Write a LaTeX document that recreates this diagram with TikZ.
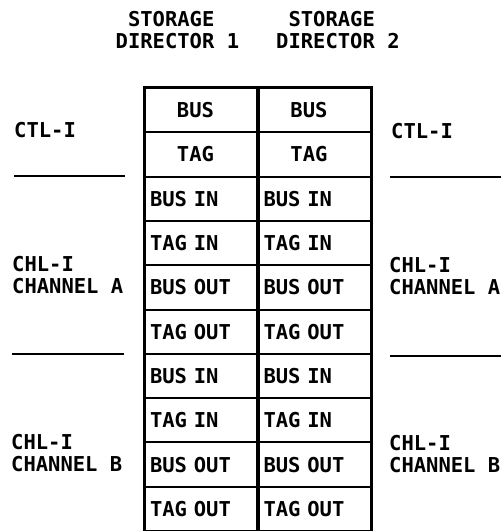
\documentclass[tikz,border=0pt]{standalone}
\usepackage{fontspec}
\newfontfamily\lblfont{DejaVu Sans Mono}
\begin{document}
\begin{tikzpicture}[x=1pt,y=-1pt,
  lbl/.style={font=\lblfont\bfseries\fontsize{20.5}{21.5}\selectfont, inner sep=0pt},
  cellc/.style={lbl, draw, line width=2pt, minimum width=112pt, minimum height=44.3pt, align=center},
  celll/.style={cellc, text width=102pt, inner xsep=5pt, align=left},
  sepline/.style={line width=2.2pt},
  border/.style={line width=3pt}]
\useasboundingbox (0,0) rectangle (501,531);
% headers
\node[lbl, align=left, anchor=west] (h1) at (115.5,30) {\hspace*{12.3pt}STORAGE\\DIRECTOR 1};
\node[lbl, align=left, anchor=west] (h2) at (276,30) {\hspace*{12.3pt}STORAGE\\DIRECTOR 2};
% cells
\foreach \t [count=\i from 0] in {BUS,TAG}{
  \node[cellc] (a\i) at (201,{88+44.3*\i+22.15}) {\t\kern11pt};
  \node[cellc] (b\i) at (314.5,{88+44.3*\i+22.15}) {\t\kern11pt};
}
\foreach \t [count=\i from 2] in {BUS IN,TAG IN,BUS OUT,TAG OUT,BUS IN,TAG IN,BUS OUT,TAG OUT}{
  \node[celll] (a\i) at (201,{88+44.3*\i+22.15}) {\t};
  \node[celll] (b\i) at (314.5,{88+44.3*\i+22.15}) {\t};
}
% outer borders
\draw[border] (a9.south west) -- (a0.north west) -- (b0.north east) -- (b9.south east);
\draw[border] (a0.north east) -- (a9.south east);
% side labels
\node[lbl, anchor=west] (ctlL) at (14,130) {CTL-I};
\node[lbl, anchor=west] (ctlR) at (391,131) {CTL-I};
\node[lbl, anchor=west, align=left] (chaL) at (12,275) {CHL-I\\CHANNEL A};
\node[lbl, anchor=west, align=left] (chaR) at (389,276) {CHL-I\\CHANNEL A};
\node[lbl, anchor=west, align=left] (chbL) at (11,453) {CHL-I\\CHANNEL B};
\node[lbl, anchor=west, align=left] (chbR) at (389,454) {CHL-I\\CHANNEL B};
% separator lines
\coordinate (s1a) at (14,176); \coordinate (s1b) at (125,176);
\coordinate (s2a) at (12,354); \coordinate (s2b) at (124,354);
\coordinate (s3a) at (390,177); \coordinate (s3b) at (501,177);
\coordinate (s4a) at (390,356); \coordinate (s4b) at (501,356);
\draw[sepline] (s1a) -- (s1b);
\draw[sepline] (s2a) -- (s2b);
\draw[sepline] (s3a) -- (s3b);
\draw[sepline] (s4a) -- (s4b);
\end{tikzpicture}
\end{document}
